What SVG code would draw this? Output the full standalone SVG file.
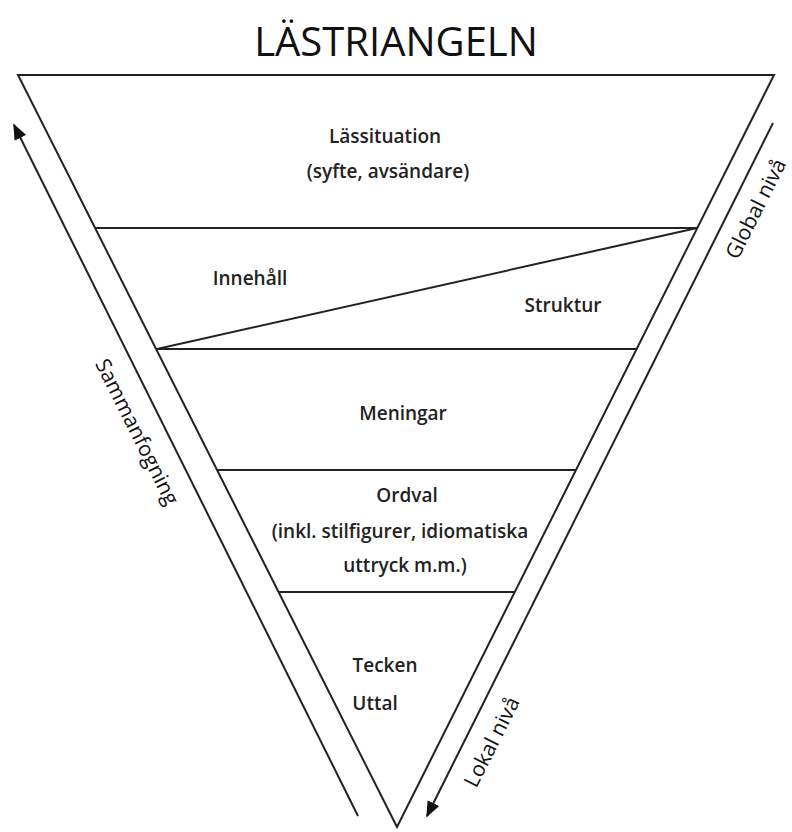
<svg xmlns="http://www.w3.org/2000/svg" width="792" height="832" viewBox="0 0 792 832">
<defs>
<marker id="ah" viewBox="0 0 10 10" refX="9" refY="5" markerWidth="16" markerHeight="13" orient="auto" markerUnits="userSpaceOnUse" preserveAspectRatio="none">
<path d="M0,0 L10,5 L0,10 z" fill="#111"/>
</marker>
<style>
.ln{stroke:#222;stroke-width:2;fill:none}
.t{font-family:"Open Sans","Liberation Sans",sans-serif;font-size:19px;font-weight:600;fill:#222;text-anchor:middle}
.side{font-family:"Open Sans","Liberation Sans",sans-serif;font-size:21px;fill:#111;text-anchor:middle}
</style>
</defs>
<rect width="792" height="832" fill="#fff"/>
<text x="396" y="56" style="font-family:'Open Sans','Liberation Sans',sans-serif;font-size:40px;fill:#111;text-anchor:middle">LÄSTRIANGELN</text>
<g id="triangle">
<path class="ln" d="M18,75 L774,75 L397,827 Z"/>
</g>
<g id="dividers">
<line class="ln" x1="95" y1="228" x2="697" y2="228"/>
<line class="ln" x1="156" y1="349" x2="636" y2="349"/>
<line class="ln" x1="157" y1="349" x2="697" y2="228"/>
<line class="ln" x1="217" y1="470" x2="576" y2="470"/>
<line class="ln" x1="278" y1="592" x2="515" y2="592"/>
</g>
<g id="connectors">
<line class="ln" x1="358" y1="816" x2="14" y2="125" marker-end="url(#ah)"/>
<line class="ln" x1="773" y1="123" x2="427" y2="816" marker-end="url(#ah)"/>
</g>
<g id="lassituation">
<text class="t" x="385" y="143">Lässituation</text>
<text class="t" x="388" y="178">(syfte, avsändare)</text>
</g>
<g id="innehall"><text class="t" x="250" y="285">Innehåll</text></g>
<g id="struktur"><text class="t" x="563" y="312">Struktur</text></g>
<g id="meningar"><text class="t" x="403" y="420">Meningar</text></g>
<g id="ordval">
<text class="t" x="407" y="502">Ordval</text>
<text class="t" x="400" y="538">(inkl. stilfigurer, idiomatiska</text>
<text class="t" x="405" y="572">uttryck m.m.)</text>
</g>
<g id="tecken">
<text class="t" x="385" y="672">Tecken</text>
<text class="t" x="375" y="710">Uttal</text>
</g>
<g id="labels">
<text class="side" transform="translate(137,432) rotate(63.3)" y="7">Sammanfogning</text>
<text class="side" transform="translate(756,209) rotate(-63.3)" y="7">Global nivå</text>
<text class="side" transform="translate(492,742) rotate(-63.3)" y="7">Lokal nivå</text>
</g>
</svg>
